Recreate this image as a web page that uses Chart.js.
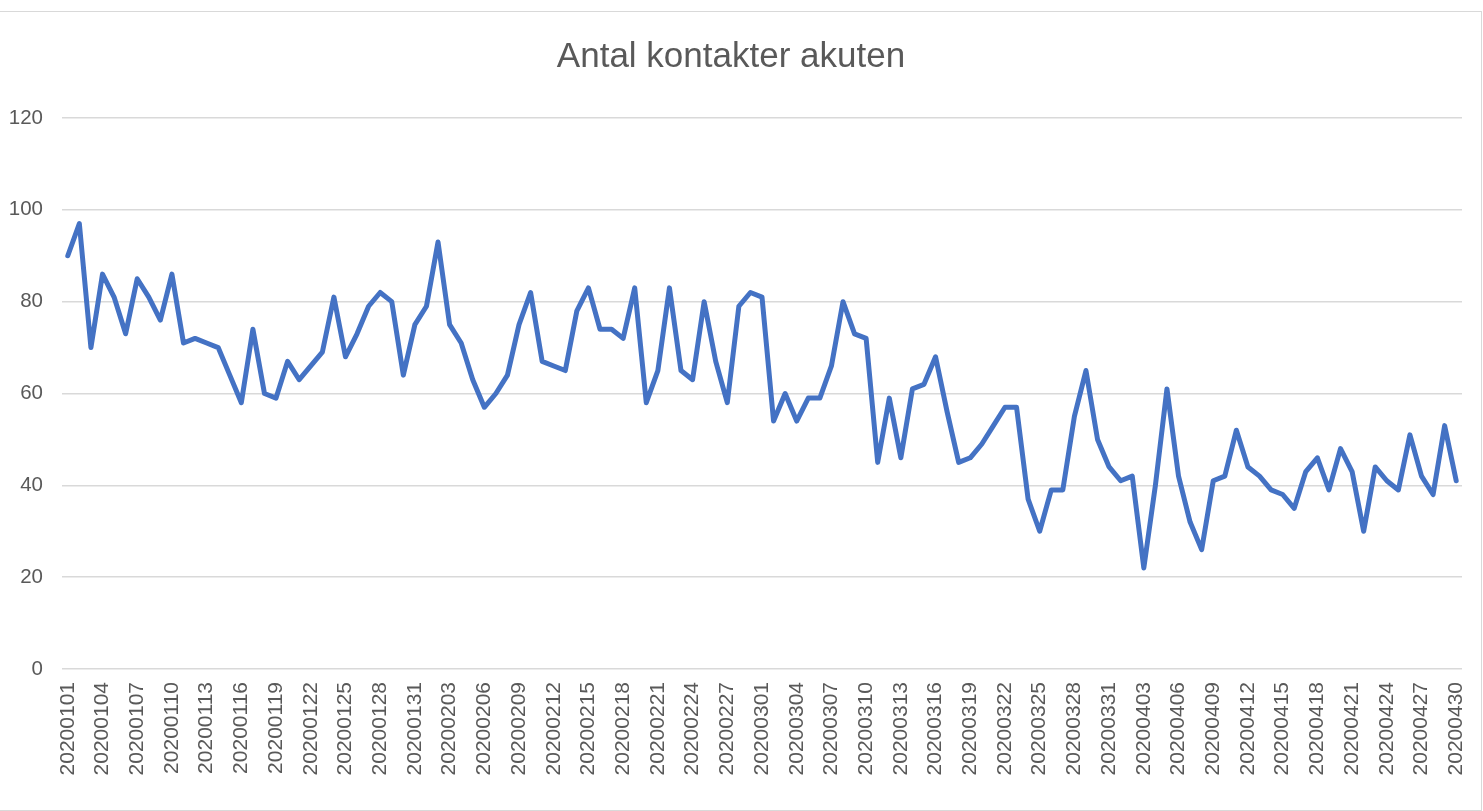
<!DOCTYPE html>
<html>
<head>
<meta charset="utf-8">
<script src="https://cdn.jsdelivr.net/npm/chart.js@4/dist/chart.umd.min.js"></script>
<style>
  html, body { margin: 0; padding: 0; background: #fff; }
  #wrap { position: relative; width: 1483px; height: 811px; }
  #frame { position: absolute; left: -1px; top: 11px; width: 1483px; height: 800px; border: 1px solid #d9d9d9; box-sizing: border-box; }
  canvas { position: absolute; left: 0; top: 0; }
</style>
</head>
<body>
<div id="wrap">
  <div id="frame"></div>
  <canvas id="lineChart" width="1483" height="811"></canvas>
</div>
<script>
// Dates (one per day, Jan 1 - Apr 30 2020)
var dates = [
  '20200101','20200102','20200103','20200104','20200105','20200106','20200107','20200108','20200109','20200110',
  '20200111','20200112','20200113','20200114','20200115','20200116','20200117','20200118','20200119','20200120',
  '20200121','20200122','20200123','20200124','20200125','20200126','20200127','20200128','20200129','20200130','20200131',
  '20200201','20200202','20200203','20200204','20200205','20200206','20200207','20200208','20200209','20200210',
  '20200211','20200212','20200213','20200214','20200215','20200216','20200217','20200218','20200219','20200220',
  '20200221','20200222','20200223','20200224','20200225','20200226','20200227','20200228','20200229',
  '20200301','20200302','20200303','20200304','20200305','20200306','20200307','20200308','20200309','20200310',
  '20200311','20200312','20200313','20200314','20200315','20200316','20200317','20200318','20200319','20200320',
  '20200321','20200322','20200323','20200324','20200325','20200326','20200327','20200328','20200329','20200330','20200331',
  '20200401','20200402','20200403','20200404','20200405','20200406','20200407','20200408','20200409','20200410',
  '20200411','20200412','20200413','20200414','20200415','20200416','20200417','20200418','20200419','20200420',
  '20200421','20200422','20200423','20200424','20200425','20200426','20200427','20200428','20200429','20200430'
];

// Contacts per day
var kontakter = [
  90, 97, 70, 86, 81, 73, 85, 81, 76, 86,
  71, 72, 71, 70, 64, 58, 74, 60, 59, 67,
  63, 66, 69, 81, 68, 73, 79, 82, 80, 64, 75,
  79, 93, 75, 71, 63, 57, 60, 64, 75, 82,
  67, 66, 65, 78, 83, 74, 74, 72, 83, 58,
  65, 83, 65, 63, 80, 67, 58, 79, 82,
  81, 54, 60, 54, 59, 59, 66, 80, 73, 72,
  45, 59, 46, 61, 62, 68, 56, 45, 46, 49,
  53, 57, 57, 37, 30, 39, 39, 55, 65, 50, 44,
  41, 42, 22, 40, 61, 42, 32, 26, 41, 42,
  52, 44, 42, 39, 38, 35, 43, 46, 39, 48,
  43, 30, 44, 41, 39, 51, 42, 38, 53, 41
];

var yTicks = [0, 20, 40, 60, 80, 100, 120];

var textColor = '#595959';
var gridColor = '#d9d9d9';

var ctx = document.getElementById('lineChart').getContext('2d');
var lineChart = new Chart(ctx, {
  type: 'line',
  data: {
    labels: dates,
    datasets: [{
      label: 'Antal kontakter akuten',
      data: kontakter,
      borderColor: '#4472C4',
      backgroundColor: '#4472C4',
      borderWidth: 5,
      pointRadius: 0,
      tension: 0,
      borderJoinStyle: 'round',
      borderCapStyle: 'round'
    }]
  },
  options: {
    responsive: false,
    animation: false,
    layout: {
      padding: { left: 0, right: 21, top: 11, bottom: 0 }
    },
    plugins: {
      legend: { display: false },
      tooltip: { enabled: false },
      title: {
        display: true,
        text: 'Antal kontakter akuten',
        color: textColor,
        font: { family: 'Liberation Sans', size: 35, weight: 'normal', lineHeight: 1.2 },
        padding: { top: 25, bottom: 40 }
      }
    },
    scales: {
      x: {
        offset: true,
        grid: { display: false, drawTicks: false },
        border: { display: false },
        ticks: {
          autoSkip: false,
          minRotation: 90,
          maxRotation: 90,
          padding: 13,
          color: textColor,
          font: { family: 'Liberation Sans', size: 21 },
          callback: function(value, index) {
            return index % 3 === 0 ? dates[index] : '';
          }
        },
        afterFit: function(scale) {
          scale.height = 142;
          scale.paddingLeft = 0;
          scale.paddingRight = 0;
        }
      },
      y: {
        min: 0,
        max: 120,
        grid: { color: gridColor, lineWidth: 1.5, drawTicks: false },
        border: { display: false },
        afterBuildTicks: function(scale) {
          scale.ticks = yTicks.map(function(v) { return { value: v }; });
        },
        ticks: {
          padding: 19,
          color: textColor,
          font: { family: 'Liberation Sans', size: 20.5 }
        },
        afterFit: function(scale) { scale.width = 62; }
      }
    }
  }
});
</script>
</body>
</html>
